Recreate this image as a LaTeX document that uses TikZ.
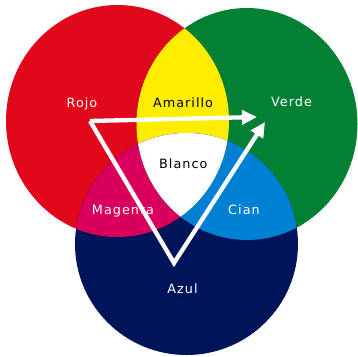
\documentclass[tikz,border=0pt]{standalone}
\usepackage{fontspec}
\setmainfont[LetterSpace=8]{DejaVu Sans}
\usetikzlibrary{arrows.meta}
\definecolor{rojo}{RGB}{226,8,28}
\definecolor{verde}{RGB}{4,128,52}
\definecolor{azul}{RGB}{0,20,90}
\definecolor{amarillo}{RGB}{255,237,0}
\definecolor{magenta}{RGB}{216,0,92}
\definecolor{cian}{RGB}{0,128,210}
\begin{document}
\begin{tikzpicture}[x=1pt,y=-1pt,
  lbl/.style={font=\fontsize{12.8}{14}\selectfont, anchor=base, inner sep=0pt},
  wlbl/.style={lbl, text=white},
  blbl/.style={lbl, text=black},
  arr/.style={draw=white, line width=4.3pt, line join=miter, -{Triangle[length=15pt,width=14pt]}}]
\useasboundingbox (0,0) rectangle (358,356);
\def\shR{(117.5,121) ellipse[x radius=111.5pt, y radius=116pt]}
\def\shG{(247,124) ellipse[x radius=110.5pt, y radius=116pt]}
\def\shB{(186.5,244) ellipse[x radius=111.5pt, y radius=111pt]}
% circles
\fill[rojo] \shR;
\fill[verde] \shG;
\fill[azul] \shB;
% overlaps
\begin{scope}
  \clip \shR;
  \fill[amarillo] \shG;
  \fill[magenta] \shB;
\end{scope}
\begin{scope}
  \clip \shG;
  \fill[cian] \shB;
\end{scope}
\begin{scope}
  \clip \shR;
  \clip \shG;
  \fill[white] \shB;
\end{scope}
% labels
\node[wlbl] (rojo) at (82,107.7) {Rojo};
\node[blbl] (amarillo) at (183,107.7) {Amarillo};
\node[wlbl] (verde) at (291.5,106.7) {Verde};
\node[blbl] (blanco) at (183.3,168) {Blanco};
\node[wlbl] (magenta) at (123,214) {Magenta};
\node[wlbl] (cian) at (244,214) {Cian};
\node[wlbl] (azul) at (182.5,293) {Azul};
% arrows
\coordinate (s) at (90,121);
\coordinate (ta) at (257,117);
\coordinate (v) at (174,263);
\coordinate (tb) at (265,122);
\draw[arr] (s) -- (ta);
\draw[arr] (s) -- (v) -- (tb);
\end{tikzpicture}
\end{document}
